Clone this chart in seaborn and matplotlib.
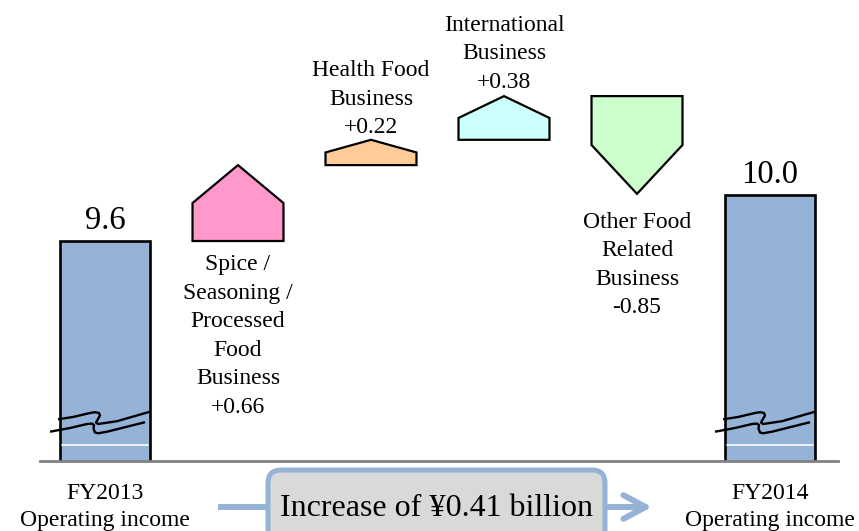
import matplotlib
matplotlib.use("Agg")
import matplotlib.pyplot as plt
import seaborn as sns
import pandas as pd
import numpy as np
from matplotlib.patches import Polygon, FancyBboxPatch

# ---------------- data ----------------
categories = ["FY2013\nOperating income",
              "Spice / Seasoning / Processed Food Business",
              "Health Food Business",
              "International Business",
              "Other Food Related Business",
              "FY2014\nOperating income"]
total_values = [9.6, 10.0]
total_labels = ["9.6", "10.0"]
deltas = [0.66, 0.22, 0.38, -0.85]
delta_labels = ["Spice /\nSeasoning /\nProcessed\nFood\nBusiness\n+0.66",
                "Health Food\nBusiness\n+0.22",
                "International\nBusiness\n+0.38",
                "Other Food\nRelated\nBusiness\n-0.85"]
label_side = ["below_base", "above", "above", "below"]
label_offset = [-9.5, 1, 2.5, -13]
delta_colors = ["#FF99CC", "#FFCC99", "#CCFFFF", "#CCFFCC"]
bar_color = "#95B3D7"
summary_text = "Increase of ¥0.41 billion"

# ---------------- style ----------------
sns.set_style("white")
plt.rcParams["font.family"] = ["Liberation Serif", "DejaVu Serif"]
plt.rcParams["text.color"] = "black"
plt.rcParams["xtick.color"] = "black"
plt.rcParams["xtick.labelcolor"] = "black"

W, H = 859, 531
fig = plt.figure(figsize=(W / 100, H / 100), dpi=100)
ax = fig.add_axes([0, 70 / H, 1, 461 / H])

y_bottom = 7.687
y_top = y_bottom + 461 / 115
ax.set_ylim(y_bottom, y_top)

df = pd.DataFrame({"cat": [categories[0], categories[-1]], "val": total_values})
sns.barplot(data=df, x="cat", y="val", order=categories, color=bar_color,
            saturation=1, width=0.67, edgecolor="black", linewidth=1.9, ax=ax)
ax.set_xlim(-105 / 133, (W - 105) / 133)

LS = 1.47
# waterfall pentagons
half = 0.342
level = total_values[0]
for i, d in enumerate(deltas):
    c = i + 1
    s = level
    e = level + d
    mid = s + d * 0.5
    verts = [(c - half, s), (c + half, s), (c + half, mid), (c, e), (c - half, mid)]
    ax.add_patch(Polygon(verts, closed=True, facecolor=delta_colors[i],
                         edgecolor="black", lw=1.6, joinstyle="miter", zorder=3))
    side = label_side[i]
    if side == "above":
        anchor, va = max(s, e), "bottom"
    elif side == "below":
        anchor, va = e, "top"
    else:
        anchor, va = s, "top"
    ax.annotate(delta_labels[i], xy=(c, anchor), xytext=(0, label_offset[i]),
                textcoords="offset points", ha="center", va=va,
                fontsize=17, linespacing=LS, color="black", zorder=4)
    level = e

# total labels
for xpos, v, lab in zip([0, len(categories) - 1], total_values, total_labels):
    ax.annotate(lab, xy=(xpos, v), xytext=(0, 3.5), textcoords="offset points",
                ha="center", va="bottom", fontsize=23.5, color="black", zorder=4)

# axis break marks and inner white line on total bars
def px2d(dx_px, y_px):
    return dx_px / 133, y_top - y_px / 115

upper = [(-47, 419.3), (-32, 417), (-15, 413), (-10, 412.2), (-6, 413),
         (-5, 415.5), (-7, 419), (-9, 422.5), (-7, 424), (0, 423),
         (12, 421.2), (45, 411.7)]
lower = [(-55, 431.7), (-35, 428), (-18, 424), (-13, 423.6), (-11, 425),
         (-11.5, 428.5), (-10, 432.5), (-7, 433.3), (2, 431.7), (40, 422.2)]
for xpos in [0, len(categories) - 1]:
    for pts in (upper, lower):
        xs = [xpos + px2d(a, b)[0] for a, b in pts]
        ys = [px2d(a, b)[1] for a, b in pts]
        ax.plot(xs, ys, color="black", lw=1.7, solid_joinstyle="round",
                solid_capstyle="butt", zorder=3)
    yl = y_top - 445 / 115
    ax.plot([xpos - 0.325, xpos + 0.325], [yl, yl], color="white", lw=1.2, zorder=3)

# axes cosmetics
for sp in ["top", "left", "right"]:
    ax.spines[sp].set_visible(False)
ax.spines["bottom"].set_color("#808080")
ax.spines["bottom"].set_linewidth(2.0)
ax.spines["bottom"].set_bounds(-0.49, 5.51)
ax.spines["bottom"].set_zorder(5)
ax.set_yticks([])
ax.set_xticks(range(len(categories)))
ax.set_xticklabels([categories[0], "", "", "", "", categories[-1]],
                   fontsize=17, linespacing=1.38, color="black")
ax.tick_params(axis="x", length=0, pad=15.5)
ax.set_xlabel("")
ax.set_ylabel("")

# summary box with arrows (figure pixel coordinates)
box = FancyBboxPatch((268, -30), 337, 91, boxstyle="round,pad=0,rounding_size=13",
                     transform=None, facecolor="#D9D9D9", edgecolor=bar_color,
                     lw=3.6, zorder=1, clip_on=False)
fig.patches.append(box)
fig.text(437 / W, 23 / H, summary_text, ha="center", va="center", fontsize=23,
         color="black")
fig.add_artist(plt.Line2D([218 / W, 266 / W], [24 / H, 24 / H], color=bar_color,
                          lw=4.3, solid_capstyle="butt"))
ax.annotate("", xy=(652, 24), xytext=(607, 24), xycoords="figure pixels",
            textcoords="figure pixels", annotation_clip=False,
            arrowprops=dict(arrowstyle="->,head_length=1.6,head_width=0.85",
                            lw=4.3, color=bar_color, shrinkA=0, shrinkB=0))

fig.savefig("out.png", dpi=100)
